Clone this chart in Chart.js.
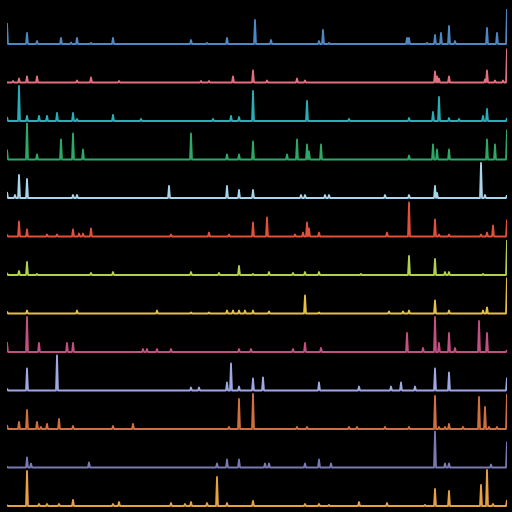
<!DOCTYPE html>
<html>
<head>
<meta charset="utf-8">
<script src="https://cdn.jsdelivr.net/npm/chart.js@4/dist/chart.umd.min.js"></script>
<style>
  html, body { margin: 0; padding: 0; background: #000; }
  #wrap { width: 512px; height: 512px; }
</style>
</head>
<body>
<div id="wrap"><canvas id="spikes"></canvas></div>
<script>
// Each series: positions of the spikes (0..250) and their heights.
// Everything between spikes sits on the flat baseline (0).
const positionMax = 250;
const gridScale = 2; // samples per position unit, keeps spikes narrow

const s1Idx = [0, 10, 15, 27, 32, 35, 42, 53, 92, 100, 110, 124, 132, 156, 158, 161, 200, 201, 210, 214, 217, 221, 224, 240, 245, 250];
const s1Val = [21, 11, 3, 6, 1.5, 6, 1, 6, 4, 1, 6, 24, 4, 3, 14, 1, 6, 6, 1, 9, 11, 18, 3, 16, 11, 35];

const s2Idx = [3, 6, 10, 15, 35, 42, 56, 97, 101, 113, 123, 130, 145, 149, 214, 215, 216, 221, 239, 240, 244, 248, 250];
const s2Val = [1.5, 4, 6, 6, 2, 5, 1.5, 1.5, 1.5, 6, 12, 2, 4, 2, 11, 6, 4, 6, 3, 12, 2, 2, 34];

const s3Idx = [0, 6, 10, 16, 20, 25, 33, 35, 53, 67, 103, 112, 116, 123, 150, 171, 201, 213, 216, 221, 226, 238, 240, 250];
const s3Val = [4, 35, 5, 5, 5, 8, 8, 2, 6, 2, 2, 5, 4, 30, 20, 2, 3, 9, 24, 3, 2, 5, 12, 3];

const s4Idx = [0, 10, 15, 27, 33, 38, 92, 110, 116, 123, 140, 145, 150, 151, 157, 201, 213, 215, 221, 240, 244, 250];
const s4Val = [10, 36, 5, 20, 26, 10, 26, 5, 5, 18, 5, 20, 15, 8, 15, 4, 15, 10, 10, 20, 15, 30];

const s5Idx = [0, 4, 6, 10, 33, 35, 81, 110, 116, 123, 147, 149, 159, 161, 189, 201, 214, 215, 237, 239, 250];
const s5Val = [6, 3, 23, 19, 3, 3, 12, 12, 8, 8, 3, 3, 3, 3, 3, 3, 12, 5, 35, 3, 3];

const s6Idx = [0, 6, 10, 20, 25, 33, 36, 38, 42, 82, 101, 111, 123, 130, 144, 148, 150, 151, 156, 190, 201, 214, 216, 221, 237, 240, 243, 250];
const s6Val = [2, 15, 7, 2, 2, 7, 3, 3, 8, 2, 4, 2, 14, 19, 2, 4, 14, 8, 4, 4, 34, 17, 2, 2, 2, 4, 11, 17];

const s7Idx = [0, 6, 10, 15, 42, 53, 92, 106, 116, 123, 131, 143, 149, 156, 177, 201, 214, 219, 221, 238, 250];
const s7Val = [2, 4, 13, 1, 2, 3, 3, 2, 9, 1, 3, 2, 3, 3, 1, 19, 16, 3, 3, 1, 35];

const s8Idx = [0, 10, 35, 75, 92, 101, 110, 113, 116, 119, 123, 131, 149, 156, 191, 198, 201, 214, 221, 238, 240, 250];
const s8Val = [2, 3, 3, 3, 1, 1, 3, 3, 3, 3, 3, 2, 18, 1, 2, 2, 3, 13, 3, 3, 6, 36];

const s9Idx = [0, 10, 16, 30, 33, 68, 70, 75, 82, 116, 122, 143, 149, 157, 200, 208, 214, 216, 221, 224, 236, 240, 250];
const s9Val = [10, 35, 9, 9, 9, 3, 3, 3, 3, 3, 3, 3, 9, 4, 19, 4, 35, 9, 19, 4, 31, 19, 2];

const s10Idx = [0, 10, 25, 92, 96, 110, 112, 116, 123, 128, 156, 176, 192, 197, 204, 214, 221, 250];
const s10Val = [2, 22, 35, 3, 3, 8, 27, 4, 12, 13, 8, 4, 4, 8, 4, 22, 18, 13];

const s11Idx = [0, 6, 10, 15, 17, 20, 26, 33, 53, 63, 111, 116, 123, 145, 150, 171, 175, 189, 201, 214, 216, 219, 221, 228, 236, 239, 241, 245, 250];
const s11Val = [4, 7, 19, 7, 2, 5, 10, 3, 3, 5, 2, 30, 35, 2, 2, 2, 2, 2, 2, 33, 2, 2, 5, 2, 32, 22, 2, 2, 35];

const s12Idx = [0, 10, 12, 41, 105, 110, 116, 129, 131, 149, 156, 162, 214, 219, 221, 242, 250];
const s12Val = [1, 10, 4, 5, 4, 8, 8, 4, 4, 4, 8, 4, 36, 4, 4, 3, 26];

const s13Idx = [0, 10, 16, 20, 26, 33, 53, 56, 82, 89, 92, 100, 105, 110, 123, 149, 156, 161, 176, 190, 209, 214, 221, 237, 240, 243, 250];
const s13Val = [1, 35, 2, 2, 2, 6, 2, 4, 3, 2, 4, 3, 29, 3, 5, 2, 2, 1, 4, 3, 1, 17, 15, 21, 36, 2, 6];

const seriesIdx = [s1Idx, s2Idx, s3Idx, s4Idx, s5Idx, s6Idx, s7Idx, s8Idx, s9Idx, s10Idx, s11Idx, s12Idx, s13Idx];
const seriesVal = [s1Val, s2Val, s3Val, s4Val, s5Val, s6Val, s7Val, s8Val, s9Val, s10Val, s11Val, s12Val, s13Val];

const colors = ['#4a88c6', '#e0707e', '#2aaeb6', '#2ea866', '#a8d4ec', '#e0503a', '#b0d050',
                '#e8c040', '#c25082', '#a0a8e2', '#d07040', '#7a7ab2', '#e8a040'];

// row baselines (px from top); one value unit = one pixel
const rowTop = 44;
const rowStep = 38.5;
const canvasH = 512;

function buildSeries(idx, val) {
  const n = positionMax * gridScale + 1;
  const pts = [];
  for (let i = 0; i < n; i++) pts.push({ x: i / gridScale, y: 0 });
  idx.forEach((k, j) => { pts[k * gridScale].y = val[j]; });
  return pts;
}

const datasets = [];
const scales = {
  x: { type: 'linear', min: 0, max: positionMax, display: false }
};

seriesIdx.forEach((idx, r) => {
  const base = rowTop + rowStep * r;
  const axisId = 'y' + r;
  scales[axisId] = { type: 'linear', display: false, min: -(canvasH - base), max: base };
  datasets.push({
    data: buildSeries(idx, seriesVal[r]),
    borderColor: colors[r],
    borderWidth: 1.8,
    borderJoinStyle: 'round',
    pointRadius: 0,
    tension: 0,
    fill: false,
    yAxisID: axisId
  });
});

new Chart(document.getElementById('spikes'), {
  type: 'line',
  data: { datasets: datasets },
  options: {
    responsive: true,
    maintainAspectRatio: false,
    animation: false,
    parsing: false,
    layout: { padding: { left: 7, right: 5, top: 0, bottom: 0 } },
    plugins: { legend: { display: false }, tooltip: { enabled: false } },
    scales: scales
  }
});
</script>
</body>
</html>
